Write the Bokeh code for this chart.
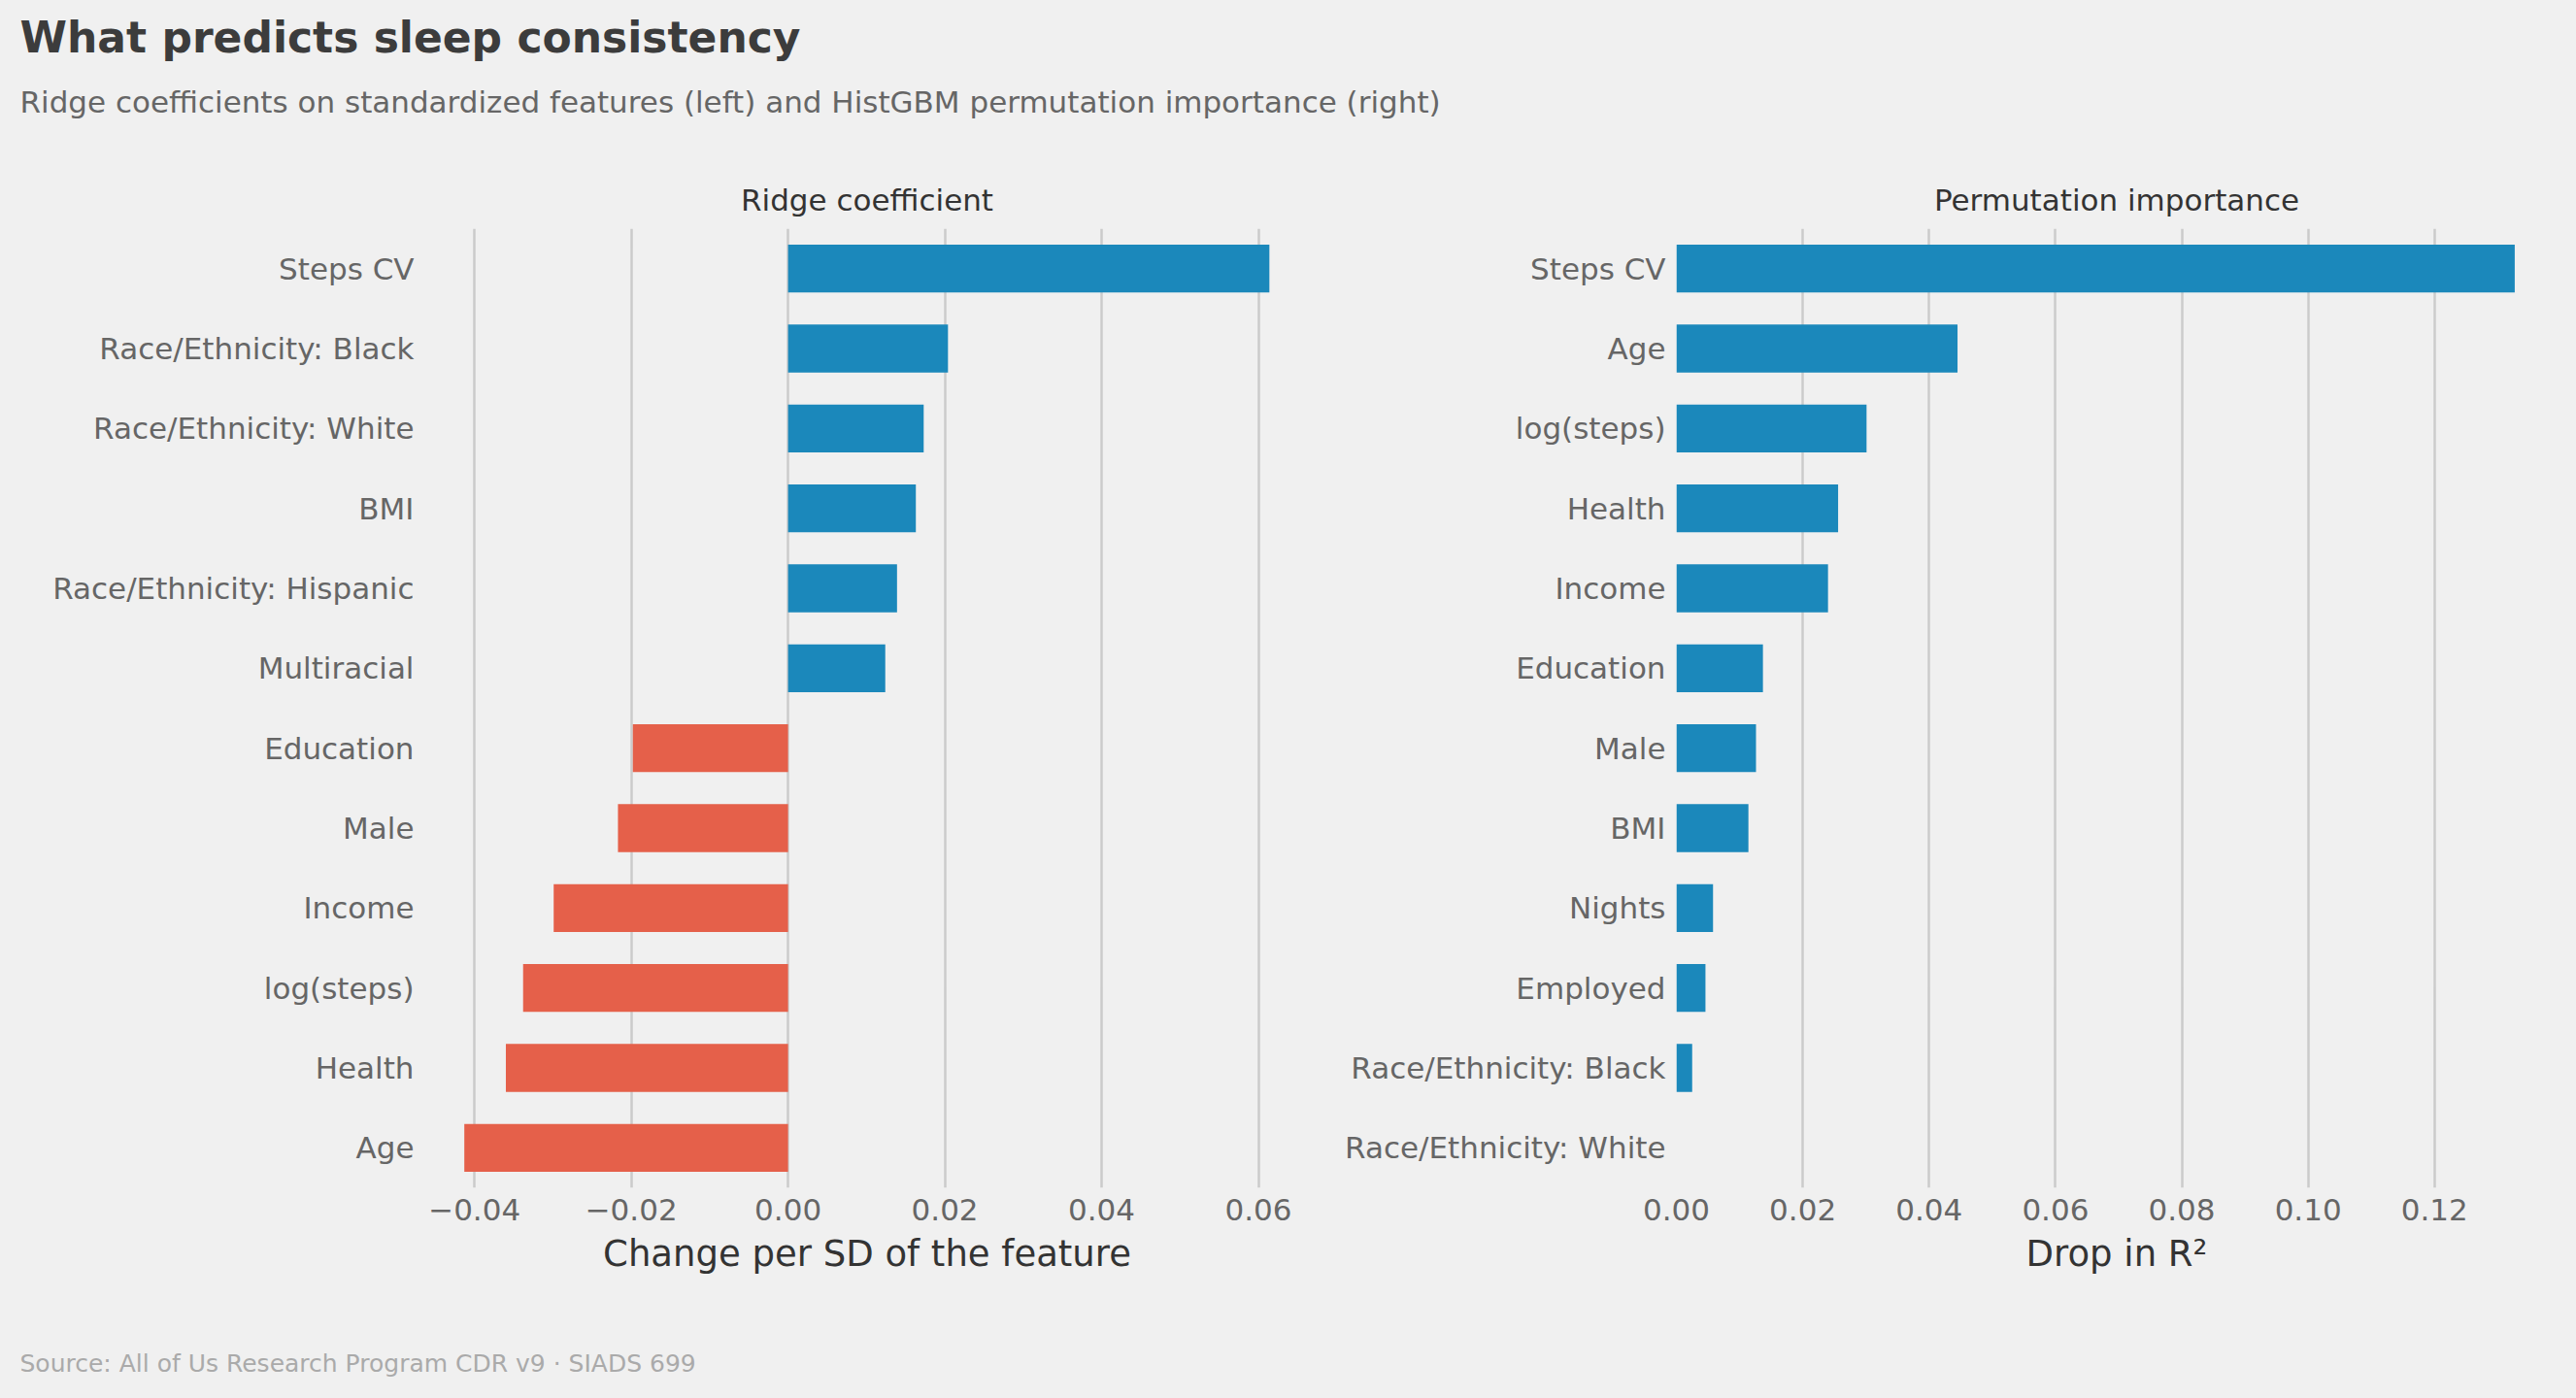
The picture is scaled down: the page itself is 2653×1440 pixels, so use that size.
from bokeh.plotting import figure
from bokeh.layouts import column, row
from bokeh.models import (Range1d, FactorRange, FixedTicker, CustomJSTickFormatter, Label,
                          GlobalInlineStyleSheet)
from bokeh.embed import file_html
from bokeh.resources import INLINE

# ---------------- data ----------------
ridge_features = ["Steps CV", "Race/Ethnicity: Black", "Race/Ethnicity: White", "BMI",
                  "Race/Ethnicity: Hispanic", "Multiracial", "Education", "Male",
                  "Income", "log(steps)", "Health", "Age"]
ridge_coef = [0.0614, 0.0204, 0.0173, 0.0163, 0.0139, 0.0124,
              -0.0198, -0.0217, -0.0299, -0.0338, -0.0360, -0.0413]

perm_features = ["Steps CV", "Age", "log(steps)", "Health", "Income", "Education",
                 "Male", "BMI", "Nights", "Employed", "Race/Ethnicity: Black",
                 "Race/Ethnicity: White"]
perm_importance = [0.1327, 0.0445, 0.0301, 0.0256, 0.0240, 0.0137,
                   0.0126, 0.0114, 0.0058, 0.0046, 0.0025, 0.0000]

ridge_ticks = [-0.04, -0.02, 0.00, 0.02, 0.04, 0.06]
perm_ticks = [0.00, 0.02, 0.04, 0.06, 0.08, 0.10, 0.12]

title_text = "What predicts sleep consistency"
subtitle_text = "Ridge coefficients on standardized features (left) and HistGBM permutation importance (right)"
left_title = "Ridge coefficient"
right_title = "Permutation importance"
left_xlabel = "Change per SD of the feature"
right_xlabel = "Drop in R\u00b2"
source_text = "Source: All of Us Research Program CDR v9 \u00b7 SIADS 699"

# ---------------- style ----------------
BG = "#f0f0f0"
BLUE = "#1b88bb"
RED = "#e5604a"
GRID = "#cbcbcb"
FONT = "DejaVu Sans"

TOP_H = 235
ROW_H = 1105
BOT_H = 92
FRAME_H = 988
L1, FW1, R1 = 437, 911, 12
L2, FW2, R2 = 366, 907, 12
W = L1 + FW1 + R1 + L2 + FW2 + R2

fmt = CustomJSTickFormatter(code="""
    const s = Math.abs(tick).toFixed(2);
    return (tick < -1e-12 ? '\u2212' : '') + s;
""")


def blank(width, height):
    f = figure(width=width, height=height, x_range=Range1d(0, width), y_range=Range1d(0, height),
               output_backend="svg", toolbar_location=None, x_axis_type=None, y_axis_type=None,
               title_location=None, min_border=0, min_border_left=0, min_border_right=0,
               min_border_top=0, min_border_bottom=0)
    f.background_fill_color = BG
    f.border_fill_color = BG
    f.outline_line_color = None
    f.grid.visible = False
    return f


def panel(features, vals, colors, xr, ticks, xlabel, border_left, frame_w, border_right):
    f = figure(frame_width=frame_w, frame_height=FRAME_H,
               y_range=FactorRange(factors=list(reversed(features))),
               x_range=Range1d(*xr), output_backend="svg", toolbar_location=None,
               title_location=None,
               min_border_left=border_left, min_border_right=border_right, min_border_top=0,
               min_border_bottom=ROW_H - FRAME_H)
    f.hbar(y=features, left=0, right=vals, height=0.6, fill_color=colors, line_color=None)
    f.background_fill_color = BG
    f.border_fill_color = BG
    f.outline_line_color = None
    f.ygrid.visible = False
    f.xgrid.grid_line_color = GRID
    f.xgrid.grid_line_width = 2.5
    f.xaxis.ticker = FixedTicker(ticks=ticks)
    f.xaxis.formatter = fmt
    f.xaxis.axis_label = xlabel
    for ax in (f.xaxis[0], f.yaxis[0]):
        ax.axis_line_color = None
        ax.major_tick_line_color = None
        ax.minor_tick_line_color = None
        ax.major_tick_out = 0
        ax.major_tick_in = 0
        ax.major_label_text_font = FONT
        ax.major_label_text_font_size = "31px"
        ax.major_label_text_color = "#666666"
    f.xaxis.major_label_standoff = 11
    f.yaxis.major_label_standoff = 11
    f.xaxis.axis_label_text_font = FONT
    f.xaxis.axis_label_text_font_size = "37px"
    f.xaxis.axis_label_text_font_style = "normal"
    f.xaxis.axis_label_text_color = "#333333"
    f.xaxis.axis_label_standoff = 10
    return f


ridge_colors = [BLUE if v >= 0 else RED for v in ridge_coef]
perm_colors = [BLUE for _ in perm_importance]

f1 = panel(ridge_features, ridge_coef, ridge_colors, (-0.04634, 0.0665), ridge_ticks,
           left_xlabel, L1, FW1, R1)
f2 = panel(perm_features, perm_importance, perm_colors, (0.0, 0.1394), perm_ticks,
           right_xlabel, L2, FW2, R2)

top = blank(W, TOP_H)
top.add_layout(Label(x=20, y=TOP_H - 38, text=title_text, text_font=FONT, text_font_size="44px",
                     text_font_style="bold", text_color="#3c3c3c", text_baseline="alphabetic"))
top.add_layout(Label(x=20, y=TOP_H - 104, text=subtitle_text, text_font=FONT,
                     text_font_size="31px", text_color="#666666", text_baseline="alphabetic"))
top.add_layout(Label(x=L1 + FW1 / 2, y=TOP_H - 205, text=left_title, text_font=FONT,
                     text_font_size="31px", text_color="#333333", text_align="center",
                     text_baseline="alphabetic"))
top.add_layout(Label(x=L1 + FW1 + R1 + L2 + FW2 / 2, y=TOP_H - 205, text=right_title,
                     text_font=FONT, text_font_size="31px", text_color="#333333",
                     text_align="center", text_baseline="alphabetic"))

bot = blank(W, BOT_H)
bot.add_layout(Label(x=20, y=BOT_H - (1404 - TOP_H - ROW_H), text=source_text, text_font=FONT,
                     text_font_size="25px", text_color="#aaaaaa", text_baseline="alphabetic"))

page_css = GlobalInlineStyleSheet(css="html, body { margin: 0; padding: 0; background: #f0f0f0; }")
layout = column(top, row(f1, f2, spacing=0), bot, spacing=0, stylesheets=[page_css])

open("out.html", "w").write(file_html(layout, INLINE))
